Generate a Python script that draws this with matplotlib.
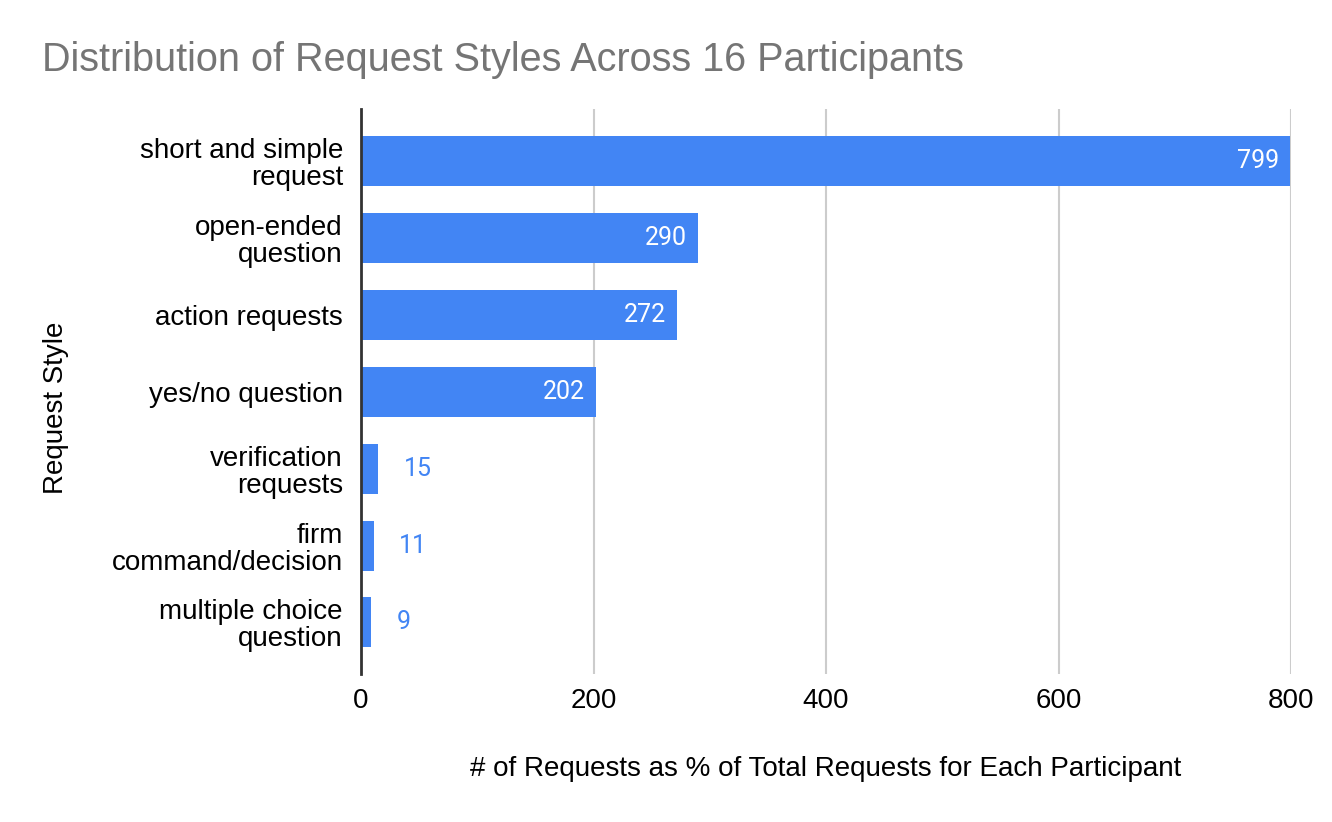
import matplotlib.pyplot as plt

# data
styles = ['short and simple\nrequest', 'open-ended\nquestion', 'action requests',
          'yes/no question', 'verification\nrequests', 'firm\ncommand/decision',
          'multiple choice\nquestion']
counts = [799, 290, 272, 202, 15, 11, 9]
xticks = [0, 200, 400, 600, 800]

blue = '#4285F4'
plt.rcParams['font.family'] = ['Liberation Sans', 'DejaVu Sans']

fig = plt.figure(figsize=(13.32, 8.22), dpi=100)
ax = fig.add_axes([361 / 1332, 1 - 674 / 822, 930 / 1332, 565 / 822])

pos = list(range(len(styles)))
bars = ax.barh(pos, counts, height=0.65, color=blue, zorder=3)

# value labels
for b, v in zip(bars, counts):
    yc = b.get_y() + b.get_height() / 2
    if v > 100:
        ax.annotate(str(v), (v, yc), xytext=(-11, 0), textcoords='offset pixels',
                    ha='right', va='center', color='white', fontsize=18,
                    family='Roboto', zorder=4)
    else:
        ax.annotate(str(v), (v, yc), xytext=(25, 0), textcoords='offset pixels',
                    ha='left', va='center', color=blue, fontsize=18,
                    family='Roboto', zorder=4)

ax.set_xlim(0, 800)
ax.set_ylim(6.67, -0.675)
ax.set_yticks(pos)
ax.set_yticklabels(styles, fontsize=20, linespacing=1.05)
ax.set_xticks(xticks)
ax.set_xticklabels([str(t) for t in xticks], fontsize=20)
ax.tick_params(axis='both', length=0)
ax.tick_params(axis='y', pad=13)
ax.tick_params(axis='x', pad=10)

ax.grid(axis='x', color='#cccccc', linewidth=1.5, zorder=0)
for s in ['top', 'right', 'bottom']:
    ax.spines[s].set_visible(False)
ax.spines['left'].set_color('#333333')
ax.spines['left'].set_linewidth(2)
ax.spines['left'].set_zorder(5)

ax.set_xlabel('# of Requests as % of Total Requests for Each Participant', fontsize=20, labelpad=30)
fig.text(56 / 1332, 1 - 408 / 822, 'Request Style', rotation=90, fontsize=20,
         ha='center', va='center')
fig.text(42 / 1332, 1 - 60 / 822, 'Distribution of Request Styles Across 16 Participants',
         fontsize=28.5, color='#757575', ha='left', va='center')

fig.savefig('out.png', dpi=100)
